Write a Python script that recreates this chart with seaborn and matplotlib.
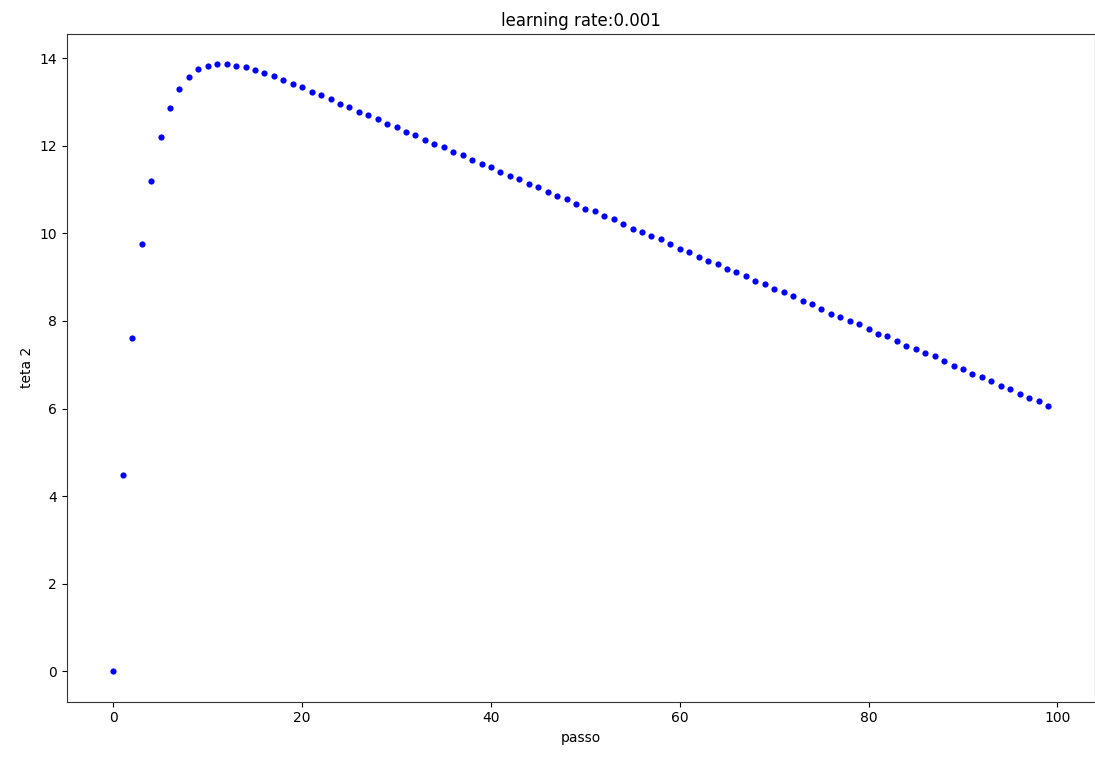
import matplotlib
matplotlib.use("Agg")
import matplotlib.pyplot as plt
import seaborn as sns
import pandas as pd

passo = list(range(100))
teta2 = [
    0.00, 4.49, 7.62, 9.76, 11.20, 12.21, 12.87, 13.30, 13.58, 13.76,
    13.83, 13.86, 13.86, 13.83, 13.80, 13.72, 13.66, 13.59, 13.51, 13.40,
    13.34, 13.23, 13.16, 13.06, 12.95, 12.88, 12.77, 12.71, 12.60, 12.49,
    12.42, 12.32, 12.25, 12.14, 12.03, 11.97, 11.86, 11.79, 11.68, 11.58,
    11.51, 11.40, 11.30, 11.23, 11.12, 11.05, 10.95, 10.85, 10.78, 10.67,
    10.56, 10.50, 10.39, 10.32, 10.21, 10.11, 10.04, 9.93, 9.86, 9.76,
    9.65, 9.58, 9.47, 9.37, 9.30, 9.19, 9.12, 9.02, 8.91, 8.84,
    8.74, 8.67, 8.56, 8.46, 8.39, 8.28, 8.17, 8.10, 8.00, 7.93,
    7.82, 7.71, 7.65, 7.54, 7.43, 7.37, 7.26, 7.19, 7.08, 6.98,
    6.91, 6.80, 6.73, 6.63, 6.52, 6.45, 6.34, 6.24, 6.17, 6.06,
]
title = "learning rate:0.001"
xlabel = "passo"
ylabel = "teta 2"

df = pd.DataFrame({"passo": passo, "teta2": teta2})

fig = plt.figure(figsize=(10.95, 7.58), dpi=100)
ax = fig.add_axes([0.0609, 0.0743, 0.9388, 0.8809])
sns.scatterplot(data=df, x="passo", y="teta2", ax=ax, color="blue",
                s=20, linewidth=0, marker="o")
ax.set_title(title, fontsize=12)
ax.set_xlabel(xlabel, fontsize=10)
ax.set_ylabel(ylabel, fontsize=10)
ax.set_xticks([0, 20, 40, 60, 80, 100])
ax.set_yticks([0, 2, 4, 6, 8, 10, 12, 14])
ax.set_xlim(-4.95, 103.95)
ax.set_ylim(-0.693, 14.553)
for sp in ax.spines.values():
    sp.set_color("#333333")
fig.savefig("out.png", dpi=100)
